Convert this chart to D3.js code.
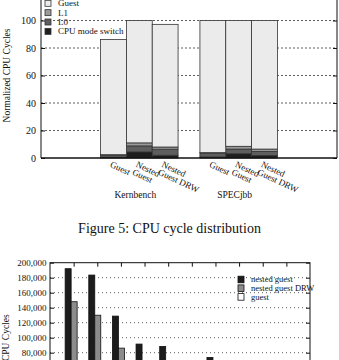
<!DOCTYPE html>
<html>
<head>
<meta charset="utf-8">
<script src="https://cdn.jsdelivr.net/npm/d3@7"></script>
<style>
  body { margin: 0; background: #fff; }
  svg { display: block; }
</style>
</head>
<body>
<script>
// ---- Figure 5 data (normalized CPU cycles, stacked) ----
const benchmarks = ["Kernbench", "SPECjbb"];
const configs = ["Guest", "Nested\nGuest", "Nested\nGuest DRW"];
const components = ["CPU mode switch", "L0", "L1", "Guest"]; // bottom -> top
const modeSwitch = [[0.6, 4.4, 2.0], [0.8, 3.1, 1.8]];
const l0Cycles = [[1.6, 4.4, 4.4], [2.8, 3.4, 3.0]];
const l1Cycles = [[0.2, 2.2, 1.6], [0.3, 2.0, 1.7]];
const guestCycles = [[83.8, 89.0, 89.2], [96.1, 91.5, 93.5]];
const topTicks = [0, 20, 40, 60, 80, 100];

// ---- second figure data (CPU cycles per category, only top visible) ----
const bottomCats = ["1", "2", "3", "4", "5", "6", "7", "8", "9", "10"];
const bottomSeries = ["nested guest", "nested guest DRW", "guest"];
const nestedGuest = [192000, 183500, 128800, 91500, 88400, 58000, 73700, 42000, 33000, 27000];
const nestedGuestDRW = [148000, 130000, 86100, 52000, 46000, 31000, 40000, 21000, 16000, 12000];
const plainGuest = [20000, 18000, 15000, 12000, 10000, 8000, 9000, 6000, 5000, 4000];
const bottomTicks = [0, 20000, 40000, 60000, 80000, 100000, 120000, 140000, 160000, 180000, 200000];

const W = 339, H = 360;
const svg = d3.select("body").append("svg")
    .attr("width", W).attr("height", H)
    .style("font-family", "'Liberation Serif', 'Times New Roman', serif");

// ================= Figure 5 =================
const colors = {"Guest": "#ebebeb", "L1": "#9a9a9a", "L0": "#5e5e5e", "CPU mode switch": "#1e1e1e"};
const y1 = d3.scaleLinear().domain([0, 120]).range([158, -7]);
const xg = d3.scaleBand().domain(benchmarks).range([41, 337]).paddingInner(0.22).paddingOuter(0.6);
const xb = d3.scaleBand().domain(configs).range([0, xg.bandwidth()]);

const fig5 = svg.append("g");

// grid
fig5.append("g").selectAll("line")
    .data(topTicks.filter(d => d > 0))
    .join("line")
    .attr("x1", 41).attr("x2", 337)
    .attr("y1", d => y1(d)).attr("y2", d => y1(d))
    .attr("stroke", "#333").attr("stroke-width", 0.8)
    .attr("stroke-dasharray", "2,2");

// stacked bars
const rows = [];
benchmarks.forEach((b, i) => configs.forEach((c, j) => {
    rows.push({bench: b, config: c,
        "CPU mode switch": modeSwitch[i][j], "L0": l0Cycles[i][j],
        "L1": l1Cycles[i][j], "Guest": guestCycles[i][j]});
}));
const stacked = d3.stack().keys(components)(rows);

fig5.append("g").selectAll("g")
    .data(stacked)
    .join("g")
    .attr("fill", s => colors[s.key])
    .selectAll("rect")
    .data(s => s)
    .join("rect")
    .attr("x", d => xg(d.data.bench) + xb(d.data.config))
    .attr("width", xb.bandwidth())
    .attr("y", d => y1(d[1]))
    .attr("height", d => y1(d[0]) - y1(d[1]))
    .attr("stroke", "#333").attr("stroke-width", 0.8);

// axes
const axL = fig5.append("g").attr("transform", "translate(41,0)")
    .call(d3.axisLeft(y1).tickValues(topTicks).tickSize(-4).tickPadding(5));
axL.select(".domain").remove();
axL.selectAll("text").attr("font-size", 10).attr("font-family", "'Liberation Serif', serif").attr("fill", "#111");
axL.selectAll("line").attr("stroke", "#111");
const axR = fig5.append("g").attr("transform", "translate(337,0)")
    .call(d3.axisRight(y1).tickValues(topTicks).tickSize(-4).tickFormat(""));
axR.select(".domain").remove();
axR.selectAll("line").attr("stroke", "#111");

fig5.append("line").attr("x1", 41).attr("x2", 41).attr("y1", y1(120)).attr("y2", y1(0)).attr("stroke", "#111");
fig5.append("line").attr("x1", 337).attr("x2", 337).attr("y1", y1(120)).attr("y2", y1(0)).attr("stroke", "#111");
fig5.append("line").attr("x1", 41).attr("x2", 337).attr("y1", y1(0)).attr("y2", y1(0)).attr("stroke", "#111").attr("stroke-width", 1.6);

// x labels (rotated, multi-line)
const lbl = fig5.append("g").selectAll("text")
    .data(rows)
    .join("text")
    .attr("transform", d => `translate(${xg(d.bench) + xb(d.config) + xb.bandwidth() / 2 - 1},${y1(0) + 2}) rotate(25)`)
    .attr("font-size", 9).attr("fill", "#111");
lbl.selectAll("tspan")
    .data(d => d.config.split("\n"))
    .join("tspan")
    .attr("x", 0)
    .attr("dy", (t, i) => i === 0 ? "0.8em" : "0.95em")
    .text(t => t);

// group labels
fig5.append("g").selectAll("text")
    .data(benchmarks)
    .join("text")
    .attr("x", d => xg(d) + xg.bandwidth() / 2 - 4)
    .attr("y", 198)
    .attr("text-anchor", "middle")
    .attr("font-size", 9.5).attr("fill", "#111")
    .text(d => d);

// y label
fig5.append("text")
    .attr("transform", `translate(10,${(y1(120) + y1(0)) / 2}) rotate(-90)`)
    .attr("text-anchor", "middle")
    .attr("font-size", 9.5).attr("fill", "#111")
    .text("Normalized CPU Cycles");

// legend
const legendOrder = ["Guest", "L1", "L0", "CPU mode switch"];
const leg = fig5.append("g").selectAll("g")
    .data(legendOrder)
    .join("g")
    .attr("transform", (d, i) => `translate(45,${3.3 + i * 9.35})`);
leg.append("rect").attr("x", 0).attr("y", -3).attr("width", 6).attr("height", 6)
    .attr("fill", d => colors[d]).attr("stroke", "#333").attr("stroke-width", 0.8);
leg.append("text").attr("x", 13).attr("dy", "0.33em")
    .attr("font-size", 9).attr("fill", "#111").text(d => d);

// caption
svg.append("text")
    .attr("x", 169.5).attr("y", 233)
    .attr("text-anchor", "middle")
    .attr("font-size", 14).attr("fill", "#111")
    .text("Figure 5: CPU cycle distribution");

// ================= second figure (top part) =================
const bcolors = {"nested guest": "#1c1c1c", "nested guest DRW": "#8c8c8c", "guest": "#ffffff"};
const y2 = d3.scaleLinear().domain([0, 200000]).range([412.7, 262.7]);
const x2 = d3.scalePoint().domain(bottomCats).range([50, 310]).padding(1);
const xs = d3.scaleBand().domain(bottomSeries).range([-8.5, 9.5]);

const bot = svg.append("g");

bot.append("g").selectAll("line")
    .data(bottomTicks.filter(d => d > 0 && d < 200000))
    .join("line")
    .attr("x1", 50).attr("x2", 310)
    .attr("y1", d => y2(d)).attr("y2", d => y2(d))
    .attr("stroke", "#333").attr("stroke-width", 0.8)
    .attr("stroke-dasharray", "1,3");

const brows = bottomCats.map((c, i) => ({cat: c, vals: [nestedGuest[i], nestedGuestDRW[i], plainGuest[i]]}));
bot.append("g").selectAll("g")
    .data(brows)
    .join("g")
    .selectAll("rect")
    .data(d => d.vals.map((v, k) => ({cat: d.cat, series: bottomSeries[k], value: v})))
    .join("rect")
    .attr("x", d => x2(d.cat) + xs(d.series))
    .attr("width", xs.bandwidth())
    .attr("y", d => y2(d.value))
    .attr("height", d => y2(0) - y2(d.value))
    .attr("fill", d => bcolors[d.series])
    .attr("stroke", "#111").attr("stroke-width", 0.8);

const axL2 = bot.append("g").attr("transform", "translate(50,0)")
    .call(d3.axisLeft(y2).tickValues(bottomTicks).tickSize(-4).tickPadding(3.5).tickFormat(d3.format(",")));
axL2.select(".domain").remove();
axL2.selectAll("text").attr("font-size", 9).attr("font-family", "'Liberation Serif', serif").attr("fill", "#111");
axL2.selectAll("line").attr("stroke", "#111");
const axR2 = bot.append("g").attr("transform", "translate(310,0)")
    .call(d3.axisRight(y2).tickValues(bottomTicks).tickSize(-4).tickFormat(""));
axR2.select(".domain").remove();
axR2.selectAll("line").attr("stroke", "#111");
const axT2 = bot.append("g").attr("transform", `translate(0,${y2(200000)})`)
    .call(d3.axisTop(x2).tickSize(-4).tickFormat(""));
axT2.select(".domain").remove();
axT2.selectAll("line").attr("stroke", "#111");

bot.append("rect")
    .attr("x", 50).attr("y", y2(200000))
    .attr("width", 260).attr("height", y2(0) - y2(200000))
    .attr("fill", "none").attr("stroke", "#111");

bot.append("text")
    .attr("transform", `translate(9,${(y2(0) + y2(200000)) / 2}) rotate(-90)`)
    .attr("text-anchor", "middle")
    .attr("font-size", 9.5).attr("fill", "#111")
    .text("CPU Cycles");

const leg2 = bot.append("g").selectAll("g")
    .data(bottomSeries)
    .join("g")
    .attr("transform", (d, i) => `translate(238,${279.5 + i * 8.7})`);
leg2.append("rect").attr("x", 0).attr("y", -3.3).attr("width", 6).attr("height", 6.6)
    .attr("fill", d => bcolors[d]).attr("stroke", "#111").attr("stroke-width", 0.8);
leg2.append("text").attr("x", 13).attr("dy", "0.33em")
    .attr("font-size", 8.5).attr("fill", "#111").text(d => d);
</script>
</body>
</html>
